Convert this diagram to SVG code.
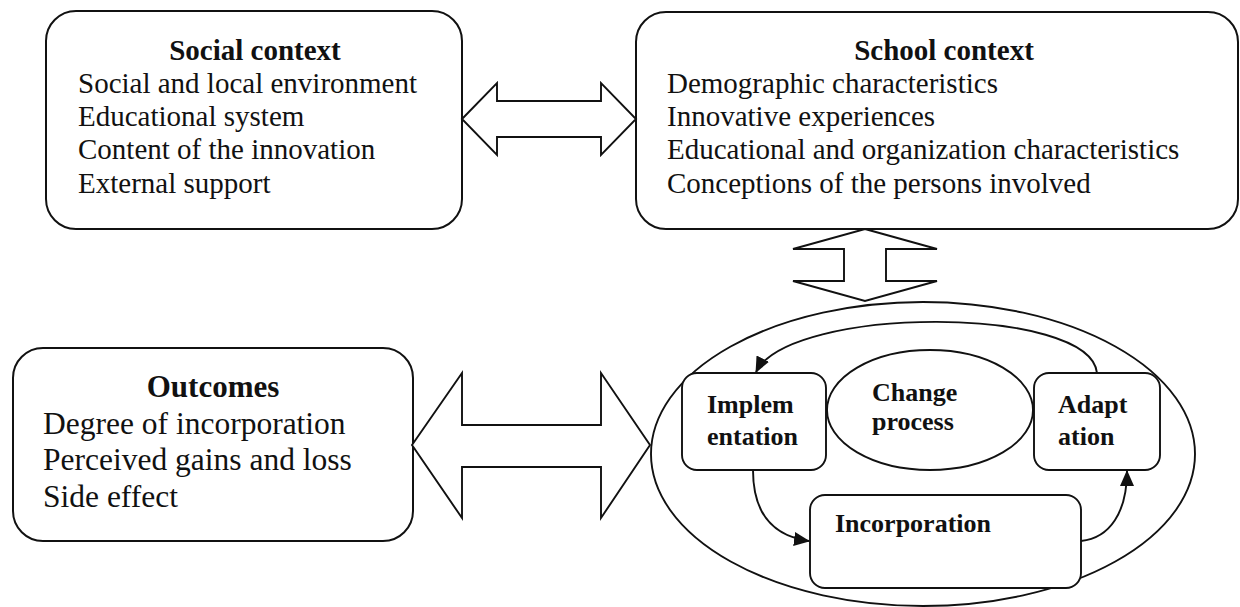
<svg xmlns="http://www.w3.org/2000/svg" width="1240" height="607" viewBox="0 0 1240 607">
  <defs>
    <marker id="head" viewBox="0 0 16 14" refX="15" refY="7" markerWidth="16" markerHeight="14" markerUnits="userSpaceOnUse" orient="auto">
      <path d="M0,0 L16,7 L0,14 Z" fill="#111"/>
    </marker>
    <style>
      .box { fill: #fff; stroke: #111; stroke-width: 2; }
      .inner { fill: #fff; stroke: #111; stroke-width: 1.9; }
      .block { fill: #fff; stroke: #111; stroke-width: 1.9; stroke-linejoin: miter; }
      .flow { fill: none; stroke: #111; stroke-width: 1.9; marker-end: url(#head); }
      text { font-family: "Liberation Serif", "Times New Roman", serif; fill: #111; }
      .title { font-weight: bold; font-size: 29px; text-anchor: middle; }
      .body { font-size: 29px; }
      .otitle { font-weight: bold; font-size: 31px; text-anchor: middle; }
      .obody { font-size: 31.5px; }
      .step { font-weight: bold; font-size: 26px; }
    </style>
  </defs>

  <!-- change-process ring drawn first so the step boxes sit on top of it -->
  <g id="change-ring">
    <ellipse class="inner" cx="923" cy="454" rx="272" ry="152"/>
  </g>

  <g id="social-context">
    <rect class="box" x="46" y="11" width="416" height="218" rx="30"/>
    <text class="title" x="255" y="60">Social context</text>
    <text class="body" x="78" y="93">Social and local environment</text>
    <text class="body" x="78" y="126">Educational system</text>
    <text class="body" x="78" y="159">Content of the innovation</text>
    <text class="body" x="78" y="193">External support</text>
  </g>

  <g id="school-context">
    <rect class="box" x="636" y="12" width="602" height="217" rx="30"/>
    <text class="title" x="944" y="60">School context</text>
    <text class="body" x="667" y="93">Demographic characteristics</text>
    <text class="body" x="667" y="126">Innovative experiences</text>
    <text class="body" x="667" y="159">Educational and organization characteristics</text>
    <text class="body" x="667" y="193">Conceptions of the persons involved</text>
  </g>

  <g id="outcomes">
    <rect class="box" x="13" y="348" width="400" height="193" rx="30"/>
    <text class="otitle" x="213" y="397">Outcomes</text>
    <text class="obody" x="43" y="434">Degree of incorporation</text>
    <text class="obody" x="43" y="470">Perceived gains and loss</text>
    <text class="obody" x="43" y="507">Side effect</text>
  </g>

  <g id="change-process">
    <ellipse class="inner" cx="930" cy="410" rx="103" ry="60"/>
    <text class="step" x="872" y="401">Change</text>
    <text class="step" x="872" y="430">process</text>
  </g>

  <g id="implementation">
    <rect class="inner" x="682" y="373" width="144" height="97" rx="15"/>
    <text class="step" x="707" y="413">Implem</text>
    <text class="step" x="707" y="445">entation</text>
  </g>

  <g id="adaptation">
    <rect class="inner" x="1034" y="373" width="126" height="97" rx="15"/>
    <text class="step" x="1058" y="413">Adapt</text>
    <text class="step" x="1058" y="445">ation</text>
  </g>

  <g id="incorporation">
    <rect class="inner" x="810" y="495" width="271" height="93" rx="15"/>
    <text class="step" x="835" y="532">Incorporation</text>
  </g>

  <g id="connectors">
    <!-- two-way block arrows between the contexts and the process -->
    <path class="block" d="M462,119 L497,83 L497,101 L601,101 L601,83 L636,119 L601,155 L601,137 L497,137 L497,155 Z"/>
    <path class="block" d="M865,229 L937,249 L886,249 L886,281 L937,281 L865,301 L793,281 L844,281 L844,249 L793,249 Z"/>
    <path class="block" d="M412,445 L462,373 L462,425 L601,425 L601,373 L650,445 L601,518 L601,467 L462,467 L462,518 Z"/>
    <!-- cycle: adaptation -> implementation -> incorporation -> adaptation -->
    <path class="flow" d="M1097,373 C1090,305 790,305 756,372"/>
    <path class="flow" d="M753,470 C753,512 772,536 809,541"/>
    <path class="flow" d="M1081,541 C1110,538 1127,512 1127,471"/>
  </g>
</svg>
